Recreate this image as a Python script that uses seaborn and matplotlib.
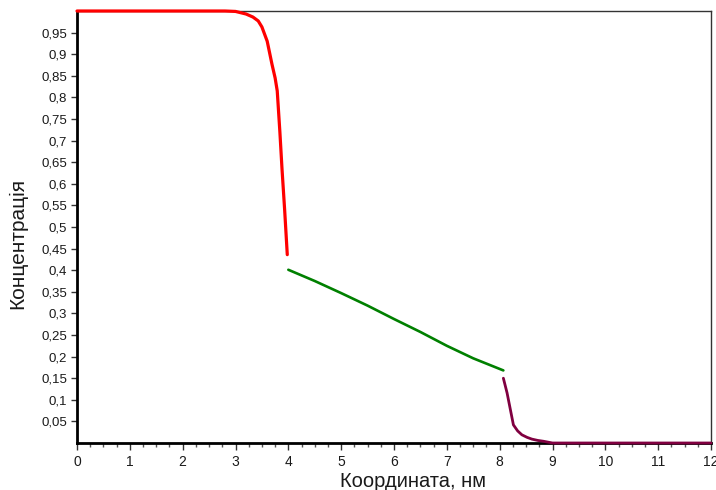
import matplotlib
matplotlib.use("Agg")
import matplotlib.pyplot as plt
import seaborn as sns
import pandas as pd
import numpy as np
from matplotlib.ticker import MultipleLocator, FuncFormatter

# ---- data ----
red_x = [0.0, 2.8, 3.0, 3.2, 3.33, 3.43, 3.5, 3.6, 3.69, 3.75, 3.79, 3.84, 3.88, 3.93, 3.98]
red_y = [1.0, 1.0, 0.999, 0.993, 0.986, 0.977, 0.963, 0.93, 0.877, 0.845, 0.815, 0.72, 0.635, 0.54, 0.436]

green_x = [4.0, 4.5, 5.0, 5.5, 6.0, 6.5, 7.0, 7.5, 8.07]
green_y = [0.401, 0.375, 0.347, 0.318, 0.287, 0.257, 0.225, 0.196, 0.168]

purple_x = [8.07, 8.14, 8.26, 8.34, 8.42, 8.52, 8.61, 8.72, 8.83, 9.0, 12.0]
purple_y = [0.150, 0.116, 0.042, 0.028, 0.019, 0.013, 0.009, 0.006, 0.004, 0.0, 0.0]

x_ticks = list(range(0, 13))
y_ticks = [round(0.05 * i, 2) for i in range(1, 20)]

x_label = "Координата, нм"
y_label = "Концентрація"

colors = {"red": "#ff0000", "green": "#008000", "purple": "#800040"}
widths = {"red": 2.3, "green": 1.9, "purple": 2.0}

sns.set_theme(style="white")
plt.rcParams['font.family'] = ['Liberation Sans', 'DejaVu Sans']

fig = plt.figure(figsize=(7.16, 4.90), dpi=100)
ax = fig.add_axes([77/716, 1-443/490, (711-77)/716, (443-11)/490])

segs = [
    pd.DataFrame({"x": red_x, "y": red_y, "s": "red"}),
    pd.DataFrame({"x": green_x, "y": green_y, "s": "green"}),
    pd.DataFrame({"x": purple_x, "y": purple_y, "s": "purple"}),
]
for df in segs:
    key = df["s"].iloc[0]
    sns.lineplot(data=df, x="x", y="y", ax=ax, color=colors[key], linewidth=widths[key],
                 sort=False, estimator=None, legend=False, zorder=3, clip_on=False)

ax.set_xlim(0, 12)
ax.set_ylim(0, 1)
ax.set_xticks(x_ticks)
ax.xaxis.set_minor_locator(MultipleLocator(0.25))
ax.set_yticks(y_ticks)

def fmt(v, pos):
    s = ("%.2f" % v).rstrip("0").rstrip(".")
    return s.replace(".", ",")
ax.yaxis.set_major_formatter(FuncFormatter(fmt))
ax.xaxis.set_major_formatter(FuncFormatter(lambda v, p: "%d" % round(v)))

ax.tick_params(axis="x", which="major", direction="out", length=5, width=1, color="#333333",
               labelsize=10, pad=4, bottom=True)
ax.tick_params(axis="x", which="minor", direction="out", length=3, width=1, color="#555555", bottom=True)
ax.tick_params(axis="y", which="major", direction="out", length=4, width=1, color="#333333",
               labelsize=9.5, pad=3, left=True)
for lab in ax.get_xticklabels() + ax.get_yticklabels():
    lab.set_color("#1a1a1a")

for side in ["left", "bottom"]:
    ax.spines[side].set_color("black")
    ax.spines[side].set_linewidth(2.0)
for side in ["top", "right"]:
    ax.spines[side].set_color("#333333")
    ax.spines[side].set_linewidth(1.0)

ax.set_xlabel(x_label, fontsize=14.5, color="#1a1a1a")
ax.set_ylabel(y_label, fontsize=15, color="#1a1a1a")
ax.xaxis.set_label_coords((413-77)/634, -0.067)
ax.yaxis.set_label_coords(-0.078, (443-243)/432)
ax.grid(False)

fig.savefig("out.png", dpi=100)
